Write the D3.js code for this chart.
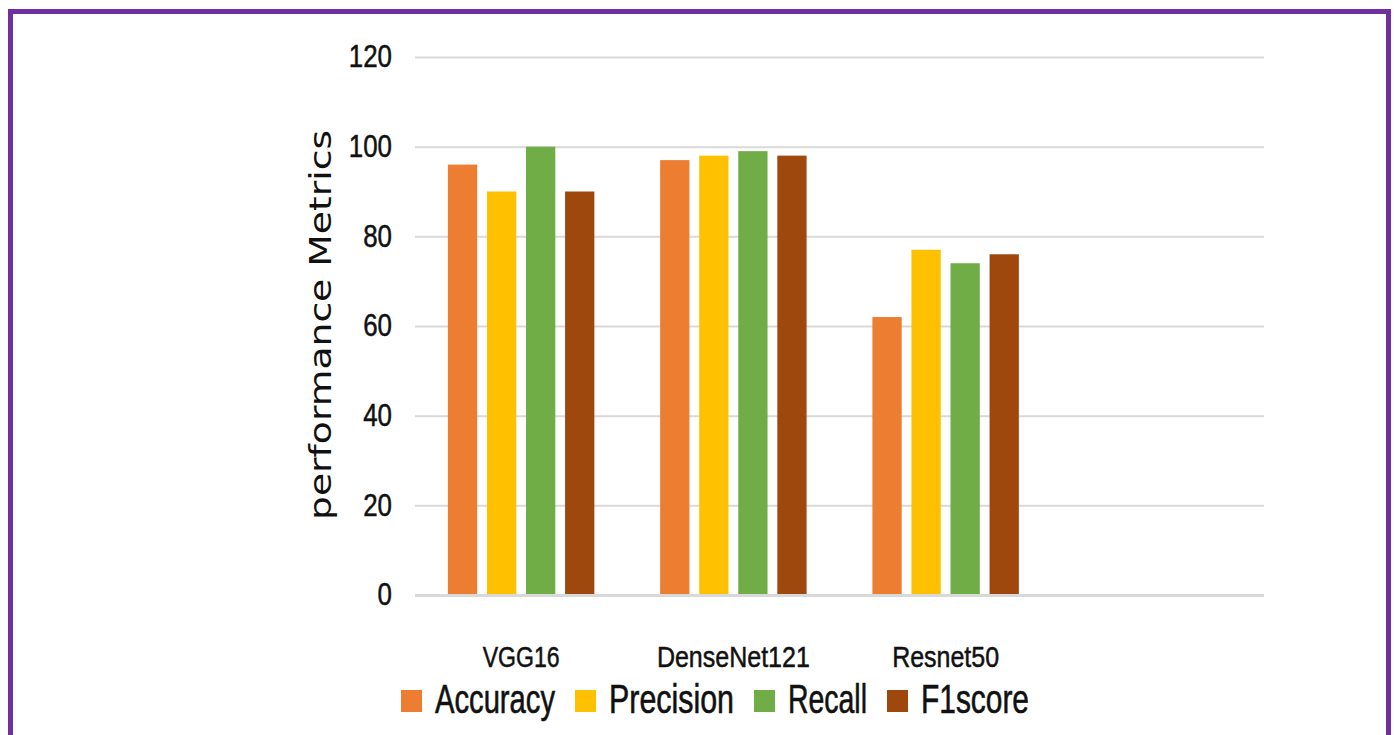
<!DOCTYPE html>
<html>
<head>
<meta charset="utf-8">
<script src="https://cdn.jsdelivr.net/npm/d3@7"></script>
<style>
  html, body { margin: 0; padding: 0; background: #ffffff; }
  svg { display: block; }
</style>
</head>
<body>
<svg id="chart" width="1394" height="735"></svg>
<script>
// Model names (a fourth, empty slot keeps the right-hand space of the plot)
const categories = ["VGG16", "DenseNet121", "Resnet50"];
const slots = [...categories, ""];
const seriesNames = ["Accuracy", "Precision", "Recall", "F1score"];
const seriesColors = ["#ED7D31", "#FFC000", "#70AD47", "#9E480E"];

// Metric values per model, in the order of seriesNames
const accuracy  = [96, 97, 62];
const precision = [90, 98, 77];
const recall    = [100, 99, 74];
const f1score   = [90, 98, 76];
const seriesValues = [accuracy, precision, recall, f1score];

const yTicks = [0, 20, 40, 60, 80, 100, 120];
const yTitle = "performance Metrics";

// Condensed labels: a regular sans squeezed to a fixed length
const labelFont = "'Liberation Sans', Arial, sans-serif";
const textInk = "#111111";

// Slight outline to give the condensed labels a heavier stroke
function ink(sel, w) {
  sel.attr("fill", textInk).attr("stroke", textInk).attr("stroke-width", w);
}

const svg = d3.select("#chart");

// Purple frame
svg.append("rect")
  .attr("x", 10.5).attr("y", 11.5)
  .attr("width", 1378).attr("height", 740)
  .attr("fill", "#ffffff")
  .attr("stroke", "#7030A0")
  .attr("stroke-width", 5);

const plot = { left: 415, right: 1264, top: 57, bottom: 595 };

const y = d3.scaleLinear().domain([0, 120]).range([plot.bottom, plot.top]);
const x0 = d3.scaleBand().domain(slots).range([plot.left, plot.right])
  .paddingInner(0.31).paddingOuter(0.155);
const x1 = d3.scaleBand().domain(seriesNames).range([0, x0.bandwidth()])
  .paddingInner(0.25);

// Gridlines and y tick labels
const yAxis = svg.append("g")
  .attr("transform", `translate(${plot.left},0)`)
  .call(d3.axisLeft(y).tickValues(yTicks).tickFormat(d3.format("d"))
    .tickSize(-(plot.right - plot.left)).tickPadding(23));
yAxis.select(".domain").remove();
yAxis.selectAll(".tick line")
  .attr("stroke", "#d9d9d9")
  .attr("stroke-width", d => d === 0 ? 3 : 2);
yAxis.selectAll(".tick text")
  .attr("font-family", labelFont)
  .attr("font-size", 31)
  .attr("textLength", d => String(d).length * 14.4)
  .attr("lengthAdjust", "spacingAndGlyphs")
  .call(ink, 0.5);

// Bars
const rows = categories.map((c, i) => ({ cat: c, vals: seriesNames.map((s, k) => ({ s, k, v: seriesValues[k][i] })) }));
const groups = svg.append("g").selectAll("g")
  .data(rows).join("g")
  .attr("transform", d => `translate(${x0(d.cat)},0)`);
groups.selectAll("rect")
  .data(d => d.vals).join("rect")
  .attr("x", d => x1(d.s))
  .attr("y", d => y(d.v))
  .attr("width", x1.bandwidth())
  .attr("height", d => y(0) - y(d.v) - 1)
  .attr("fill", d => seriesColors[d.k]);

// Category labels
const catWidths = { "VGG16": 77, "DenseNet121": 153, "Resnet50": 107 };
svg.append("g").selectAll("text")
  .data(categories).join("text")
  .attr("x", d => x0(d) + x0.bandwidth() / 2)
  .attr("y", 667)
  .attr("text-anchor", "middle")
  .attr("font-family", labelFont)
  .attr("font-size", 30)
  .attr("textLength", d => catWidths[d])
  .attr("lengthAdjust", "spacingAndGlyphs")
  .text(d => d)
  .call(ink, 0.5);

// Y axis title
svg.append("text")
  .attr("transform", "translate(331,325) rotate(-90)")
  .attr("text-anchor", "middle")
  .attr("font-family", "'DejaVu Sans', 'Open Sans', sans-serif")
  .attr("font-size", 30)
  .attr("fill", textInk)
  .attr("textLength", 390)
  .attr("lengthAdjust", "spacingAndGlyphs")
  .text(yTitle);

// Legend
const legendWidths = [120, 125, 79, 108];
const legend = svg.append("g");
let lx = 401;
seriesNames.forEach((name, k) => {
  legend.append("rect")
    .attr("x", lx).attr("y", 690)
    .attr("width", 21).attr("height", 22)
    .attr("fill", seriesColors[k]);
  legend.append("text")
    .attr("x", lx + 34).attr("y", 713)
    .attr("font-family", labelFont)
    .attr("font-size", 40)
    .attr("textLength", legendWidths[k])
    .attr("lengthAdjust", "spacingAndGlyphs")
    .text(name)
    .call(ink, 0.6);
  lx += 34 + legendWidths[k] + 20;
});
</script>
</body>
</html>
